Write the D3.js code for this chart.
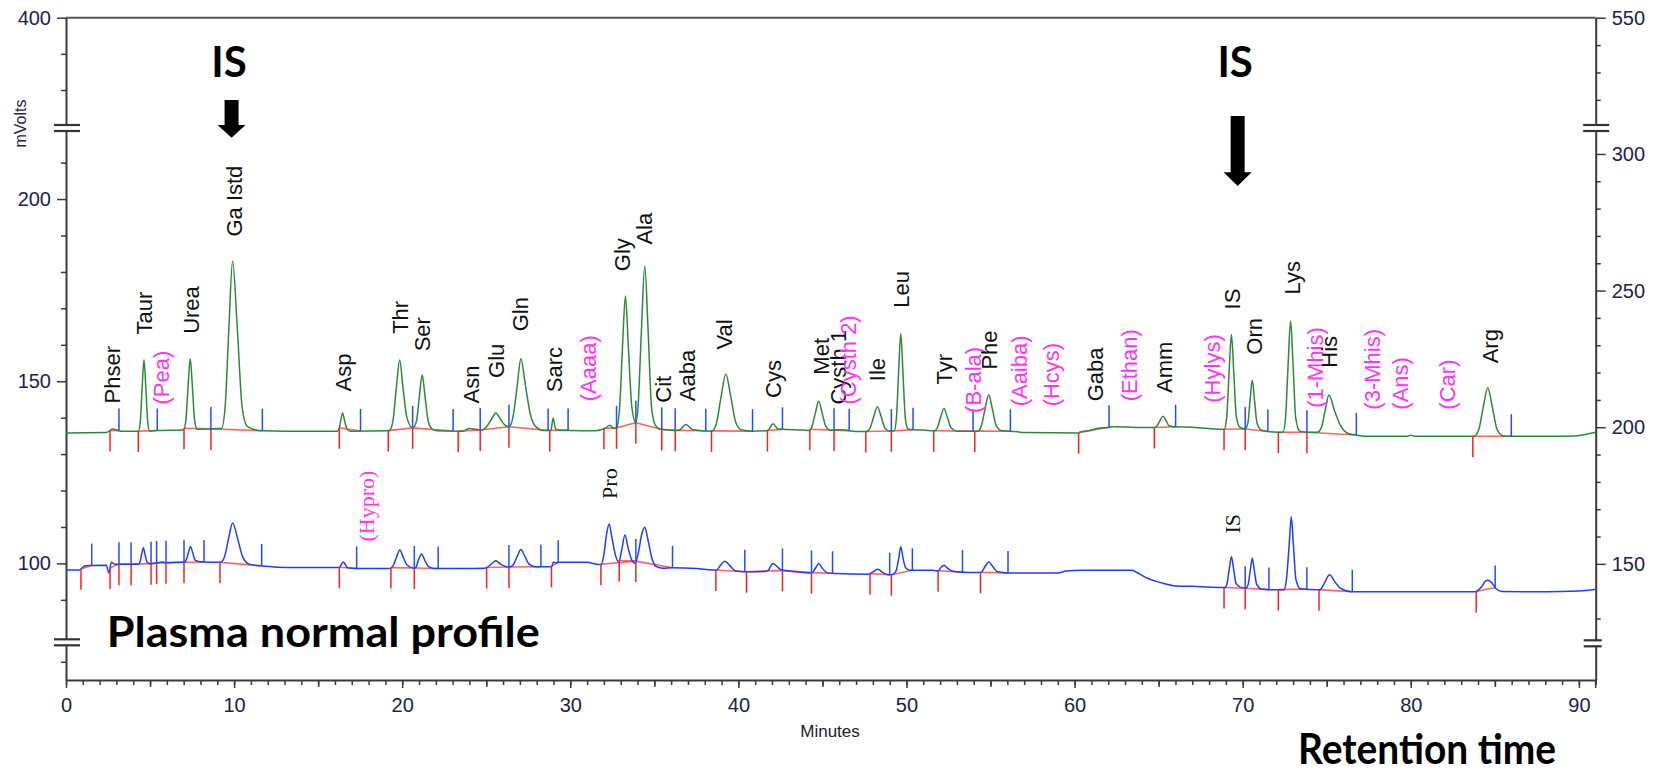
<!DOCTYPE html>
<html>
<head>
<meta charset="utf-8">
<script src="https://cdn.jsdelivr.net/npm/d3@7"></script>
<style>
  body { margin: 0; background: #fff; }
  svg { display: block; }
</style>
</head>
<body>
<script>
// ---- data: [minutes, mV] ----
var greenTrace = [
  [0,135.8],[2.4,135.9],[2.55,136.3],[2.8,136.9],[3.1,136.5],[3.3,136.3],
  [4.31,136.3],[4.42,138.9],[4.53,148.1],[4.64,155.9],[4.75,148.1],[4.86,138.9],[4.97,136.3],
  [5.5,136.5],[6.9,136.6],
  [7.0,136.7],[7.13,139.3],[7.26,148.4],[7.39,156.2],[7.52,148.4],[7.65,139.3],[7.8,136.8],
  [8.5,136.9],[9.1,137.0],
  [9.25,137.0],[9.47,143.2],[9.69,164.6],[9.91,183.0],[10.19,164.6],[10.47,143.2],[10.75,137.8],[11.1,136.9],
  [11.7,136.4],[13,136.3],[16.0,136.3],
  [16.15,136.3],[16.25,137.0],[16.35,139.3],[16.45,141.3],[16.57,139.3],[16.7,137.0],[16.9,136.3],
  [19.1,136.4],
  [19.25,136.5],[19.45,139.1],[19.65,148.1],[19.85,155.8],[20.05,148.1],[20.28,140.0],[20.62,137.2],
  [20.85,139.0],[21.02,145.8],[21.19,151.7],[21.36,145.8],[21.55,139.0],[21.8,136.8],[22.1,136.4],
  [23.3,136.3],[23.6,136.3],[24.0,137.0],[24.4,136.8],[24.65,136.6],
  [24.75,136.6],[25.0,137.4],[25.3,139.5],[25.57,141.3],[25.85,139.5],[26.15,137.8],[26.35,137.5],
  [26.5,138.5],[26.62,141.0],[26.84,148.6],[27.06,156.2],[27.34,148.6],[27.62,141.0],[27.95,137.5],[28.4,136.5],
  [28.8,136.5],[28.85,136.6],[28.98,139.9],[29.12,137.0],[29.3,136.6],
  [29.9,136.5],[31.5,136.4],[32.1,137.2],[32.35,137.9],[32.6,137.0],
  [32.75,137.2],[32.92,141.9],[33.1,158.8],[33.28,173.4],[33.46,158.8],[33.66,143.0],[33.9,138.6],
  [34.03,143.0],[34.23,163.8],[34.43,181.6],[34.63,163.8],[34.83,143.0],[35.05,138.0],[35.35,136.8],
  [36.3,136.5],[36.5,136.6],[36.87,138.1],[37.3,136.7],[38.3,136.3],
  [38.45,136.4],[38.69,138.4],[38.97,145.7],[39.25,152.0],[39.55,145.7],[39.85,138.6],[40.2,136.6],[40.8,136.3],
  [41.6,136.4],[41.75,136.5],[42.06,138.3],[42.35,136.9],[42.6,136.8],
  [43.9,136.6],
  [44.2,136.5],[44.38,137.6],[44.58,141.3],[44.78,144.5],[44.98,141.3],[45.2,137.6],[45.5,136.5],
  [46.0,136.7],[46.3,136.6],[47.0,136.2],[47.55,136.2],
  [47.62,136.2],[47.83,137.1],[48.05,140.3],[48.27,143.0],[48.49,140.3],[48.72,137.1],[49.05,136.3],
  [49.27,136.4],[49.4,139.9],[49.53,152.4],[49.66,163.1],[49.79,152.4],[49.93,139.9],[50.1,136.9],[50.4,136.7],
  [51.0,136.6],[51.6,136.4],
  [51.65,136.4],[51.83,137.2],[52.03,140.1],[52.23,142.5],[52.43,140.1],[52.65,137.2],[53.0,136.3],
  [53.9,136.3],
  [54.25,136.3],[54.45,137.7],[54.67,142.3],[54.89,146.3],[55.11,142.3],[55.35,137.7],[55.7,136.4],
  [56.5,136.2],[57.0,135.9],[60.2,135.8],
  [60.3,136.0],[60.9,136.5],[61.4,137.1],[62.0,137.3],[62.2,137.5],[64.5,137.3],
  [64.75,137.3],[64.9,137.7],[65.08,139.2],[65.26,140.4],[65.44,139.2],[65.62,137.8],[65.95,137.5],
  [67.0,137.4],[68.8,136.8],
  [68.9,136.8],[69.05,140.3],[69.19,152.4],[69.33,162.8],[69.47,152.4],[69.62,140.3],[69.85,137.3],[70.15,136.9],
  [70.31,138.6],[70.44,144.9],[70.57,150.3],[70.7,144.9],[70.85,138.6],[71.1,136.6],[71.5,136.2],
  [72.1,136.0],
  [72.4,136.0],[72.55,140.1],[72.7,154.3],[72.85,166.5],[73.0,154.3],[73.15,140.1],[73.4,136.3],[73.8,136.0],
  [74.45,136.0],[74.69,137.4],[74.91,142.1],[75.13,146.2],[75.45,142.1],[75.8,138.0],[76.3,135.6],[76.8,135.2],
  [77.2,134.9],[79.8,134.9],[80.0,135.2],[80.2,134.9],[83.65,134.9],
  [83.75,134.9],[84.04,136.7],[84.31,142.9],[84.58,148.2],[84.85,142.9],[85.14,136.7],[85.5,135.0],[86,134.9],
  [88.5,134.9],[89.8,135.0],[90.5,135.5],[91,136.0]
];

var blueTrace = [
  [0,98.2],[0.8,98.2],[0.95,98.7],[1.1,99.3],[1.4,99.4],[2.4,99.5],[2.55,97.4],[2.7,100.3],[2.9,99.8],[4.25,99.8],
  [4.3,99.8],[4.4,100.4],[4.5,102.5],[4.6,104.3],[4.7,102.5],[4.82,100.4],[5.0,99.9],
  [5.5,100.2],[5.7,100.4],[5.9,100.2],[6.95,100.3],
  [7.02,100.3],[7.15,100.9],[7.28,102.9],[7.41,104.6],[7.54,102.9],[7.68,100.9],[7.9,100.5],
  [8.2,100.4],[9.1,100.3],
  [9.2,100.3],[9.43,101.8],[9.67,106.8],[9.91,111.1],[10.21,106.8],[10.51,101.8],[10.9,99.8],[11.4,99.4],
  [11.7,99.3],[13,98.9],[16.1,98.9],
  [16.25,98.9],[16.5,100.4],[16.75,98.8],[17.3,98.6],[19.2,98.6],
  [19.26,98.6],[19.46,99.3],[19.66,101.7],[19.86,103.7],[20.06,101.7],[20.3,99.5],[20.7,98.7],
  [20.8,98.8],[20.97,101.0],[21.15,102.6],[21.33,101.0],[21.55,99.2],[21.9,98.6],[23.5,98.6],[24.9,98.7],
  [25.0,98.8],[25.3,99.8],[25.57,100.7],[25.85,99.8],[26.3,99.0],
  [26.45,99.1],[26.62,99.7],[26.84,101.9],[27.06,103.8],[27.3,101.9],[27.55,99.8],[27.9,99.1],[28.8,99.1],
  [28.9,99.2],[29.0,100.4],[29.1,100.2],[29.3,100.3],[31.0,100.3],[31.7,99.7],
  [31.85,99.8],[32.0,102.5],[32.15,107.8],[32.31,110.8],[32.48,107.0],[32.7,102.0],[32.89,100.4],
  [33.05,103.5],[33.25,107.8],[33.45,104.0],[33.65,101.0],[33.86,100.0],
  [34.05,103.0],[34.25,108.0],[34.43,109.9],[34.62,106.5],[34.85,101.5],[35.13,99.1],
  [35.5,98.7],[36.0,98.8],[37.5,98.6],[38.5,98.2],
  [38.7,98.2],[38.95,99.6],[39.19,100.6],[39.45,99.6],[39.8,98.0],[40.4,97.7],[41.6,97.8],
  [41.75,98.0],[42.06,100.0],[42.35,98.9],[42.6,98.1],[43.5,97.7],[44.2,97.4],
  [44.4,97.5],[44.6,98.8],[44.78,100.0],[44.97,98.8],[45.3,97.4],[45.8,97.2],[47.7,97.0],
  [47.8,97.1],[48.05,97.8],[48.3,98.4],[48.55,97.6],[48.9,96.9],[49.1,96.9],
  [49.28,97.3],[49.4,98.2],[49.53,101.2],[49.66,104.6],[49.79,101.5],[49.95,98.8],[50.2,98.1],[51.5,98.1],[51.8,98.0],
  [51.9,98.0],[52.05,98.9],[52.23,99.5],[52.42,98.8],[52.7,97.9],[53.3,97.6],[54.3,97.5],
  [54.45,97.6],[54.68,99.2],[54.9,100.4],[55.12,99.2],[55.4,97.7],[56.0,97.4],[59.0,97.4],[59.5,97.9],[60.5,98.1],[63.4,98.1],
  [63.7,97.5],[64.3,96.0],[64.9,95.0],[65.5,94.3],[65.85,93.9],[67.0,93.7],[68.6,93.4],[68.9,93.4],
  [68.95,93.4],[69.07,94.5],[69.2,98.4],[69.33,101.8],[69.46,98.4],[69.6,94.6],[69.85,93.5],[70.15,93.2],
  [70.22,93.3],[70.33,94.3],[70.45,98.1],[70.57,101.4],[70.69,98.1],[70.83,94.3],[71.1,93.0],[71.6,92.8],[72.1,92.8],
  [72.45,92.8],[72.6,95.5],[72.76,104.8],[72.89,112.8],[73.02,104.8],[73.17,95.5],[73.45,93.0],[74.5,92.8],
  [74.6,92.8],[74.85,94.5],[75.17,96.9],[75.45,95.2],[75.8,93.2],[76.5,92.2],[83.8,92.2],
  [83.9,92.3],[84.2,93.5],[84.45,95.2],[84.58,95.4],[84.8,94.8],[85.05,93.2],[85.4,92.3],[88,92.2],[90,92.4],[91,92.9]
];

// integration marks (minutes): peak start (red) and peak end (blue)
var greenStarts = [2.62,4.30,7.02,8.62,16.26,19.17,20.62,23.33,24.64,26.35,28.78,32.0,32.75,33.9,35.44,36.24,38.4,41.73,44.25,45.69,47.58,49.1,51.62,54.06,60.24,64.74,68.89,70.15,72.12,73.82,83.69];
var greenEnds = [3.15,5.43,8.62,11.68,17.52,20.62,23.03,24.64,26.35,28.68,29.87,32.75,33.9,35.44,36.24,38.06,40.84,42.62,45.69,46.59,49.1,50.39,53.96,56.18,62.05,66.01,70.15,71.5,73.82,76.76,85.98];
var blueStarts = [0.89,2.62,3.15,3.87,5.06,5.39,5.95,7.02,9.16,16.26,19.33,20.72,25.02,26.35,28.88,31.82,32.91,33.9,38.66,40.48,42.62,44.35,47.83,49.1,51.88,54.4,68.89,70.15,72.12,74.54,83.89];
var blueEnds = [1.53,3.15,3.87,5.06,5.39,5.95,7.02,8.21,11.64,17.29,20.72,22.14,26.35,28.25,29.28,33.9,36.08,40.38,42.62,44.35,45.6,49.0,50.35,53.33,56.04,70.15,71.56,73.82,76.52,85.02];

// peak names: [text, minutes, mV at foot of the text, kind]  k = identified, m = not found, s = serif
var peakLabels = [
  ["Phser",2.74,143.9,"k"],["Taur",4.65,162.8,"k"],["(Pea)",5.65,143.6,"m"],["Urea",7.45,163.0,"k"],
  ["Ga Istd",9.97,189.7,"k"],["Asp",16.5,147.2,"k"],["Thr",19.85,163.0,"k"],["Ser",21.2,158.2,"k"],
  ["Asn",24.07,143.9,"k"],["Glu",25.61,150.9,"k"],["Gln",27.03,163.7,"k"],["Sarc",29.02,147.0,"k"],
  ["(Aaaa)",31.03,144.5,"m"],["Gly",33.07,180.2,"k"],["Ala",34.37,187.5,"k"],["Cit",35.52,144.1,"k"],
  ["Aaba",36.96,144.5,"k"],["Val",39.13,158.7,"k"],["Cys",42.06,145.4,"k"],["Met",44.89,151.8,"k"],
  ["Cysth 1",45.94,143.6,"k"],["(Cysth 2)",46.51,143.6,"m"],["Ile",48.26,150.0,"k"],["Leu",49.66,170.2,"k"],
  ["Tyr",52.21,149.1,"k"],["(B-ala)",53.96,141.3,"m"],["Phe",54.93,153.2,"k"],["(Aaiba)",56.72,143.1,"m"],
  ["(Hcys)",58.62,143.1,"m"],["Gaba",61.23,144.5,"k"],["(Ethan)",63.22,144.5,"m"],["Amm",65.3,146.8,"k"],
  ["(Hylys)",68.15,144.1,"m"],["IS",69.37,169.7,"k"],["Orn",70.65,157.3,"k"],["Lys",72.91,173.8,"k"],
  ["(1-Mhis)",74.28,142.7,"m"],["His",75.15,153.7,"k"],["(3-Mhis)",77.7,142.2,"m"],["(Ans)",79.38,142.2,"m"],
  ["(Car)",82.13,142.2,"m"],["Arg",84.73,154.9,"k"],
  ["(Hypro)",17.83,106.0,"sm"],["Pro",32.29,117.7,"s"],["IS",69.37,108.2,"s"]
];

var xMajorTicks = [0,10,20,30,40,50,60,70,80,90];
var yLeftTicks = [400,200,150,100];
var yLeftMinor = [390,380,210,190,180,170,160,140,130,120,110,90,73];
var yRightTicks = [550,300,250,200,150];
var yRightMinor = [540,530,520,290,280,270,260,240,230,220,210,190,180,170,160,130];
var isMarks = [9.85, 69.7];

// ---- layout ----
var W = 1658, H = 772;
var plotL = 66, plotR = 1595.7, plotT = 17.7, plotB = 680;

var svg = d3.select("body").append("svg").attr("width", W).attr("height", H);

var x = d3.scaleLinear().domain([0, 91]).range([plotL, plotR]);
// broken axes: the flat middle piece is the cut
var yL = d3.scaleLinear().domain([68, 219.5, 369.5, 400]).range([plotB, 128, 128, plotT]);
var yR = d3.scaleLinear().domain([107.5, 309.5, 509.7, 550]).range([plotB, 128, 128, plotT]);

var axisColor = "#3a3a3a";
var numColor = "#1c2150";

function styleAxis(g) {
  g.select(".domain").attr("stroke", axisColor).attr("stroke-width", 2);
  g.selectAll(".tick line").attr("stroke", axisColor).attr("stroke-width", 1.5);
  g.selectAll(".tick text").attr("fill", numColor)
    .style("font-family", "'Liberation Sans', Arial, sans-serif").style("font-size", "20px");
}

// top frame line
svg.append("line").attr("x1", plotL).attr("x2", plotR).attr("y1", plotT).attr("y2", plotT)
  .attr("stroke", "#555").attr("stroke-width", 2);

// x axis: minutes, 5-minute and 10-minute ticks
svg.append("g").attr("transform", "translate(0," + plotB + ")")
  .call(d3.axisBottom(x).tickValues(d3.range(0, 92, 1)).tickSize(5).tickFormat("").tickSizeOuter(0))
  .call(styleAxis);
svg.append("g").attr("transform", "translate(0," + plotB + ")")
  .call(d3.axisBottom(x).tickValues([5,15,25,35,45,55,65,75,85]).tickSize(7).tickFormat("").tickSizeOuter(0))
  .call(styleAxis).select(".domain").remove();
svg.append("g").attr("transform", "translate(0," + plotB + ")")
  .call(d3.axisBottom(x).tickValues(xMajorTicks).tickSize(8).tickPadding(10).tickSizeOuter(0))
  .call(styleAxis).select(".domain").remove();
svg.append("line").attr("x1", plotR).attr("x2", plotR).attr("y1", plotB).attr("y2", plotB + 8)
  .attr("stroke", axisColor).attr("stroke-width", 1.5);

// left axis
svg.append("g").attr("transform", "translate(" + plotL + ",0)")
  .call(d3.axisLeft(yL).tickValues(yLeftMinor).tickSize(5).tickFormat("").tickSizeOuter(0))
  .call(styleAxis);
svg.append("g").attr("transform", "translate(" + plotL + ",0)")
  .call(d3.axisLeft(yL).tickValues(yLeftTicks).tickSize(9).tickPadding(6).tickSizeOuter(0))
  .call(styleAxis).select(".domain").remove();

// right axis
svg.append("g").attr("transform", "translate(" + plotR + ",0)")
  .call(d3.axisRight(yR).tickValues(yRightMinor).tickSize(5).tickFormat("").tickSizeOuter(0))
  .call(styleAxis);
svg.append("g").attr("transform", "translate(" + plotR + ",0)")
  .call(d3.axisRight(yR).tickValues(yRightTicks).tickSize(10).tickPadding(6).tickSizeOuter(0))
  .call(styleAxis).select(".domain").remove();

// axis break marks
function breakMark(cx, cy, w) {
  svg.append("rect").attr("x", cx - w / 2).attr("y", cy - 2.5).attr("width", w).attr("height", 5).attr("fill", "#fff");
  [-3, 3].forEach(function (d) {
    svg.append("line").attr("x1", cx - w / 2).attr("x2", cx + w / 2)
      .attr("y1", cy + d).attr("y2", cy + d).attr("stroke", "#333").attr("stroke-width", 2.2);
  });
}
breakMark(plotL + 1, 128, 26);
breakMark(plotL + 1, 642.3, 26);
breakMark(plotR + 0.5, 128, 26);
breakMark(plotR - 3, 643.3, 18);

// axis titles
svg.append("text").attr("transform", "translate(26,123.5) rotate(-90)")
  .attr("text-anchor", "middle").attr("fill", numColor)
  .style("font-family", "'Liberation Sans', Arial, sans-serif").style("font-size", "16px")
  .text("mVolts");
svg.append("text").attr("x", 830).attr("y", 737)
  .attr("text-anchor", "middle").attr("fill", "#1a1a2a")
  .style("font-family", "'Liberation Sans Narrow', 'Liberation Sans', Arial, sans-serif").style("font-size", "17px")
  .text("Minutes");

// ---- traces ----
var line = d3.line().x(function (d) { return x(d[0]); }).y(function (d) { return yL(d[1]); })
  .curve(d3.curveMonotoneX);

function valAt(trace, t) {
  var i = d3.bisector(function (d) { return d[0]; }).left(trace, t);
  if (i <= 0) return trace[0][1];
  if (i >= trace.length) return trace[trace.length - 1][1];
  var a = trace[i - 1], b = trace[i];
  return a[1] + (b[1] - a[1]) * (t - a[0]) / (b[0] - a[0]);
}

function drawTrace(trace, color, starts, ends) {
  // integration baselines
  starts.forEach(function (s) {
    var e = ends.find(function (v) { return v > s + 0.01; });
    if (e === undefined) return;
    svg.append("line")
      .attr("x1", x(s)).attr("y1", yL(valAt(trace, s)))
      .attr("x2", x(e)).attr("y2", yL(valAt(trace, e)))
      .attr("stroke", "#ff3030").attr("stroke-opacity", 0.75).attr("stroke-width", 1.6);
  });
  svg.append("path").datum(trace).attr("d", line)
    .attr("fill", "none").attr("stroke", color).attr("stroke-width", 1.5);
  svg.selectAll(null).data(starts).enter().append("line")
    .attr("x1", function (d) { return x(d); }).attr("x2", function (d) { return x(d); })
    .attr("y1", function (d) { return yL(valAt(trace, d)); })
    .attr("y2", function (d) { return yL(valAt(trace, d)) + 21; })
    .attr("stroke", "#ff1f1f").attr("stroke-width", 1.5);
  svg.selectAll(null).data(ends).enter().append("line")
    .attr("x1", function (d) { return x(d); }).attr("x2", function (d) { return x(d); })
    .attr("y1", function (d) { return yL(valAt(trace, d)); })
    .attr("y2", function (d) { return yL(valAt(trace, d)) - 22; })
    .attr("stroke", "#1f4dff").attr("stroke-width", 1.5);
}
drawTrace(greenTrace, "#2b8a3a", greenStarts, greenEnds);
drawTrace(blueTrace, "#1f3dff", blueStarts, blueEnds);

// ---- peak names ----
svg.selectAll(".pk").data(peakLabels).enter().append("text")
  .attr("class", "pk")
  .attr("transform", function (d) { return "translate(" + x(d[1]) + "," + yL(d[2]) + ") rotate(-90)"; })
  .attr("dy", "0.36em")
  .attr("fill", function (d) { return d[3].indexOf("m") >= 0 ? "#ff33f5" : "#111"; })
  .style("font-family", function (d) {
    return d[3].indexOf("s") === 0 ? "'Liberation Serif', 'Times New Roman', serif" : "'Liberation Sans', Arial, sans-serif";
  })
  .style("font-size", "22px")
  .text(function (d) { return d[0]; });

// ---- annotations ----
var bigFont = "Lato, 'Open Sans', sans-serif";
isMarks.forEach(function (t, i) {
  var cx = x(t);
  svg.append("text").attr("x", cx - 2.5).attr("y", 76.7).attr("text-anchor", "middle")
    .style("font-family", bigFont).style("font-weight", 700).style("font-size", "42px")
    .text("IS");
  var y0 = i === 0 ? 100 : 116, y1 = i === 0 ? 125 : 172.3, y2 = i === 0 ? 137.7 : 186;
  svg.append("path")
    .attr("d", "M" + (cx - 7) + "," + y0 + "H" + (cx + 7) + "V" + y1 + "H" + (cx + 14) +
      "L" + cx + "," + y2 + "L" + (cx - 14) + "," + y1 + "H" + (cx - 7) + "Z")
    .attr("fill", "#000");
});

svg.append("text").attr("x", 106.7).attr("y", 646.7)
  .attr("textLength", 433).attr("lengthAdjust", "spacingAndGlyphs")
  .style("font-family", bigFont).style("font-weight", 700).style("font-size", "42px")
  .text("Plasma normal profile");
svg.append("text").attr("x", 1298).attr("y", 764)
  .attr("textLength", 258).attr("lengthAdjust", "spacingAndGlyphs")
  .style("font-family", bigFont).style("font-weight", 700).style("font-size", "42px")
  .text("Retention time");
</script>
</body>
</html>
